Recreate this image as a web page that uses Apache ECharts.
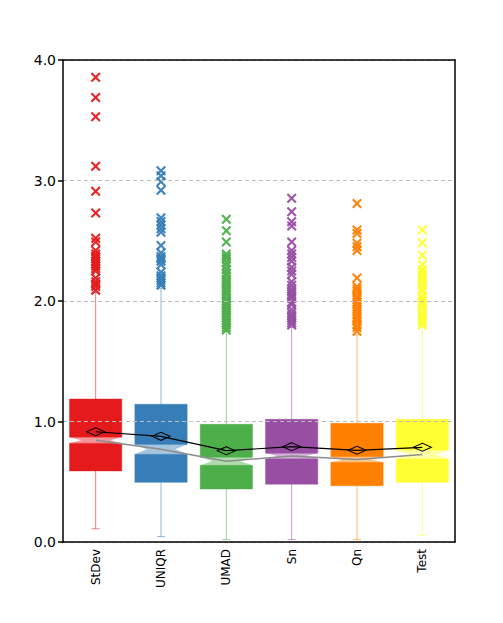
<!DOCTYPE html>
<html>
<head>
<meta charset="utf-8">
<script src="https://cdn.jsdelivr.net/npm/echarts@6/dist/echarts.min.js"></script>
<style>
  html, body { margin: 0; padding: 0; background: #fff; }
  #chart { width: 503px; height: 623px; }
</style>
</head>
<body>
<div id="chart"></div>
<script>
(function() {
  // --- data ---
  var categories = ['StDev', 'UNIQR', 'UMAD', 'Sn', 'Qn', 'Test'];
  var whiskerLow = [0.11, 0.045, 0.02, 0.02, 0.02, 0.055];
  var q1 = [0.59, 0.495, 0.44, 0.48, 0.467, 0.495];
  var notchLow = [0.82, 0.728, 0.636, 0.69, 0.661, 0.689];
  var medians = [0.845, 0.77, 0.67, 0.714, 0.685, 0.726];
  var notchHigh = [0.87, 0.81, 0.703, 0.736, 0.708, 0.763];
  var q3 = [1.186, 1.143, 0.977, 1.018, 0.985, 1.018];
  var whiskerHigh = [2.07, 2.105, 1.75, 1.78, 1.72, 1.79];
  var means = [0.915, 0.877, 0.758, 0.791, 0.761, 0.786];

  var outStDev = [3.857, 3.688, 3.53, 3.118, 2.91, 2.731, 2.52, 2.49, 2.42, 2.39, 2.37, 2.35,
    2.33, 2.31, 2.29, 2.27, 2.25, 2.19, 2.16, 2.14, 2.12, 2.09];
  var outUNIQR = [3.08, 3.04, 2.99, 2.92, 2.69, 2.66, 2.63, 2.6, 2.57, 2.46, 2.4, 2.37, 2.35,
    2.33, 2.3, 2.24, 2.21, 2.19, 2.17, 2.15, 2.13];
  var outUMAD = [2.678, 2.584, 2.49, 2.39, 2.37, 2.35, 2.32, 2.29, 2.26, 2.23, 2.21, 2.18,
    2.16, 2.14, 2.11, 2.09, 2.07, 2.05, 2.02, 2.0, 1.98, 1.96, 1.94, 1.92, 1.9, 1.88, 1.86,
    1.84, 1.82, 1.8, 1.78, 1.76];
  var outSn = [2.852, 2.741, 2.658, 2.622, 2.49, 2.42, 2.39, 2.36, 2.33, 2.28, 2.25, 2.22,
    2.16, 2.13, 2.1, 2.08, 2.06, 2.04, 2.02, 1.99, 1.97, 1.93, 1.9, 1.88, 1.86, 1.84, 1.82, 1.8];
  var outQn = [2.81, 2.589, 2.56, 2.48, 2.45, 2.42, 2.19, 2.12, 2.1, 2.08, 2.05, 2.03, 2.01,
    1.99, 1.97, 1.95, 1.93, 1.91, 1.89, 1.87, 1.85, 1.83, 1.8, 1.78, 1.75];
  var outTest = [2.589, 2.484, 2.38, 2.3, 2.26, 2.24, 2.22, 2.2, 2.18, 2.16, 2.13, 2.1, 2.08,
    2.04, 2.02, 2.0, 1.98, 1.96, 1.94, 1.9, 1.88, 1.86, 1.84, 1.82, 1.8];
  var outliers = [outStDev, outUNIQR, outUMAD, outSn, outQn, outTest];

  var yTicks = [0, 1, 2, 3, 4];

  // --- styles ---
  var colors = ['#e41a1c', '#377eb8', '#4daf4a', '#984ea3', '#ff7f00', '#ffff33'];
  var ink = '#000';
  var font = 'DejaVu Sans';

  function fade(hex, a) {
    var r = parseInt(hex.slice(1, 3), 16), g = parseInt(hex.slice(3, 5), 16), b = parseInt(hex.slice(5, 7), 16);
    return 'rgba(' + r + ',' + g + ',' + b + ',' + a + ')';
  }

  var boxData = categories.map(function(c, i) {
    return [i, whiskerLow[i], q1[i], notchLow[i], medians[i], notchHigh[i], q3[i], whiskerHigh[i]];
  });

  function renderBox(params, api) {
    var i = api.value(0);
    var col = colors[i];
    var p = [];
    for (var k = 1; k <= 7; k++) p.push(api.coord([i, api.value(k)]));
    var cx = p[0][0];
    var half = api.size([1, 0])[0] * 0.8 / 2;
    var cap = 4;
    var yLow = p[0][1], yQ1 = p[1][1], yNl = p[2][1], yMed = p[3][1], yNh = p[4][1], yQ3 = p[5][1], yHigh = p[6][1];
    var wStyle = { stroke: fade(col, 0.55), lineWidth: 1 };
    var bStyle = { fill: col, stroke: fade(col, 0.45), lineWidth: 1 };
    return {
      type: 'group',
      children: [
        { type: 'line', shape: { x1: cx, y1: yLow, x2: cx, y2: yQ1 }, style: wStyle },
        { type: 'line', shape: { x1: cx, y1: yQ3, x2: cx, y2: yHigh }, style: wStyle },
        { type: 'line', shape: { x1: cx - cap, y1: yLow, x2: cx + cap, y2: yLow }, style: wStyle },
        { type: 'line', shape: { x1: cx - cap, y1: yHigh, x2: cx + cap, y2: yHigh }, style: wStyle },
        { type: 'rect', shape: { x: cx - half, y: yNl, width: half * 2, height: yQ1 - yNl }, style: bStyle },
        { type: 'rect', shape: { x: cx - half, y: yQ3, width: half * 2, height: yNh - yQ3 }, style: bStyle },
        { type: 'polygon', shape: { points: [
            [cx - half, yNh], [cx + half, yNh], [cx + half * 0.55, yMed],
            [cx + half, yNl], [cx - half, yNl], [cx - half * 0.55, yMed]
          ] }, style: { fill: fade(col, 0.45) } }
      ]
    };
  }

  var crossPath = 'path://M0,1.5L1.5,0L5,3.5L8.5,0L10,1.5L6.5,5L10,8.5L8.5,10L5,6.5L1.5,10L0,8.5L3.5,5Z';

  var series = [{
    type: 'custom',
    renderItem: renderBox,
    encode: { x: 0, y: [1, 2, 3, 4, 5, 6, 7] },
    data: boxData,
    z: 2
  }, {
    type: 'line',
    data: medians,
    symbol: 'none',
    lineStyle: { color: '#8c8c8c', width: 1.5 },
    z: 3
  }, {
    type: 'line',
    data: means,
    symbol: 'diamond',
    symbolSize: [18, 8],
    lineStyle: { color: ink, width: 1.2 },
    itemStyle: { color: 'rgba(0,0,0,0)', borderColor: ink, borderWidth: 1.2 },
    z: 4
  }];

  outliers.forEach(function(vals, i) {
    series.push({
      type: 'scatter',
      data: vals.map(function(v) { return [i, v]; }),
      symbol: crossPath,
      symbolSize: 10,
      itemStyle: { color: colors[i], opacity: 0.95 },
      z: 5
    });
  });

  var frameLine = { show: true, onZero: false, lineStyle: { color: ink, width: 1.5 } };

  var chart = echarts.init(document.getElementById('chart'), null, { renderer: 'svg' });
  chart.setOption({
    animation: false,
    grid: { left: 63, right: 48, top: 60, bottom: 81 },
    xAxis: [{
      type: 'category',
      data: categories,
      boundaryGap: true,
      axisLine: frameLine,
      axisTick: { show: false },
      axisLabel: { rotate: 90, margin: 7, color: ink, fontFamily: font, fontSize: 12 },
      z: 10
    }, {
      type: 'category',
      position: 'top',
      data: categories,
      axisLine: frameLine,
      axisTick: { show: false },
      axisLabel: { show: false },
      z: 10
    }],
    yAxis: [{
      type: 'value',
      min: yTicks[0],
      max: yTicks[yTicks.length - 1],
      interval: 1,
      axisLine: frameLine,
      axisTick: { show: true, length: 5, lineStyle: { color: ink, width: 1.5 } },
      axisLabel: { margin: 7, color: ink, fontFamily: font, fontSize: 14, formatter: function(v) { return v.toFixed(1); } },
      splitLine: { show: true, lineStyle: { color: '#bdbdbd', type: [4, 3], width: 1 } },
      z: 10
    }, {
      type: 'value',
      position: 'right',
      min: yTicks[0],
      max: yTicks[yTicks.length - 1],
      interval: 1,
      axisLine: frameLine,
      axisTick: { show: false },
      axisLabel: { show: false },
      splitLine: { show: false },
      z: 10
    }],
    series: series
  });
  window.addEventListener('resize', function() { chart.resize(); });
})();
</script>
</body>
</html>
